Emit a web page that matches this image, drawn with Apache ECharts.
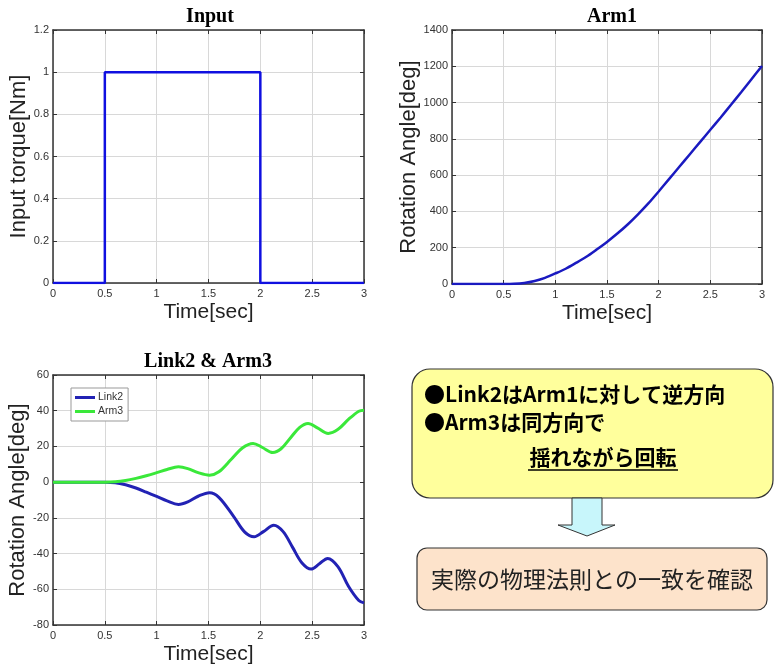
<!DOCTYPE html>
<html>
<head>
<meta charset="utf-8">
<script src="https://cdn.jsdelivr.net/npm/echarts@6/dist/echarts.min.js"></script>
<style>
html,body{margin:0;padding:0;background:#fff;}
#c{width:775px;height:668px;}
</style>
</head>
<body>
<div id="c"></div>
<script>
// ---- data ----
const timeTicks = [0, 0.5, 1, 1.5, 2, 2.5, 3];

const inputT = [0, 0.5, 0.5, 2, 2, 3];
const inputV = [0, 0, 1, 1, 0, 0];

const arm1T = [0, 0.5, 0.6, 0.7, 0.8, 0.9, 1.0, 1.1, 1.2, 1.3, 1.4, 1.5, 1.6, 1.7, 1.8, 1.9, 2.0, 2.1, 2.2, 2.3, 2.4, 2.5, 2.6, 2.7, 2.8, 2.9, 3.0];
const arm1V = [0, 0, 1, 6, 17, 34, 58, 84, 116, 150, 190, 232, 278, 328, 384, 444, 510, 578, 646, 714, 782, 850, 918, 988, 1058, 1130, 1202];

const link2T = [0, 0.5, 0.6, 0.7, 0.8, 0.9, 1.0, 1.1, 1.21, 1.3, 1.4, 1.51, 1.6, 1.74, 1.85, 1.94, 2.03, 2.13, 2.22, 2.31, 2.4, 2.49, 2.57, 2.65, 2.75, 2.85, 2.95, 3.0];
const link2V = [0, 0, -0.3, -1.5, -3.3, -5.6, -8.0, -10.5, -12.5, -11.1, -7.9, -5.9, -8.5, -19.0, -28.0, -30.6, -27.7, -24.1, -27.7, -36.4, -45.1, -48.7, -45.7, -42.7, -47.4, -58.3, -66.3, -67.6];

const arm3T = [0, 0.5, 0.6, 0.7, 0.8, 0.9, 1.0, 1.1, 1.21, 1.3, 1.4, 1.51, 1.6, 1.72, 1.83, 1.93, 2.02, 2.12, 2.2, 2.29, 2.38, 2.46, 2.55, 2.655, 2.75, 2.85, 2.95, 3.0];
const arm3V = [0, 0, 0.2, 0.9, 2.1, 3.6, 5.3, 7.1, 8.6, 7.6, 5.3, 3.9, 5.8, 12.8, 19.3, 21.7, 19.4, 16.6, 18.7, 24.75, 30.7, 32.9, 30.4, 27.3, 29.6, 35.1, 39.7, 40.3];

const titles = ['Input', 'Arm1', 'Link2 & Arm3'];
const xName = 'Time[sec]';
const yNames = ['Input torque[Nm]', 'Rotation Angle[deg]', 'Rotation Angle[deg]'];
const seriesNames = ['Input', 'Arm1', 'Link2', 'Arm3'];
const note1 = '●Link2はArm1に対して逆方向';
const note2 = '●Arm3は同方向で';
const note3 = '揺れながら回転';
const note4 = '実際の物理法則との一致を確認';

// ---- helpers ----
const pair = (t, v) => t.map((x, i) => [x, v[i]]);
const SANS = "'Liberation Sans',Arial,sans-serif";
const frame = {show: true, onZero: false, lineStyle: {color: '#333', width: 1.5}};
const tick = {show: true, inside: true, length: 4, lineStyle: {color: '#333', width: 1}};
const split = {show: true, lineStyle: {color: '#d8d8d8', width: 1}};
const fmt = v => String(+(+v).toFixed(3));
const lbl = {color: '#333', fontSize: 11, fontFamily: SANS, formatter: fmt};

const grids = [
  {left: 53, top: 30, width: 311, height: 253},
  {left: 452, top: 30, width: 310, height: 254},
  {left: 53, top: 375, width: 311, height: 250}
];
const yRanges = [[0, 1.2, 0.2], [0, 1400, 200], [-80, 60, 20]];
const yGaps = [13.5, 19, 24];

const xAxes = [], yAxes = [];
grids.forEach((g, i) => {
  xAxes.push({type: 'value', gridIndex: i, min: 0, max: 3, interval: 0.5, position: 'bottom',
    axisLine: frame, axisTick: tick, splitLine: split,
    axisLabel: Object.assign({margin: 5}, lbl),
    name: xName, nameLocation: 'middle', nameGap: 19,
    nameTextStyle: {fontSize: 21, fontFamily: SANS, color: '#222'}});
  xAxes.push({type: 'value', gridIndex: i, min: 0, max: 3, interval: 0.5, position: 'top',
    axisLine: frame, axisTick: tick, splitLine: {show: false}, axisLabel: {show: false}});
  const r = yRanges[i];
  yAxes.push({type: 'value', gridIndex: i, min: r[0], max: r[1], interval: r[2], position: 'left',
    axisLine: frame, axisTick: tick, splitLine: split,
    axisLabel: Object.assign({margin: 4}, lbl),
    name: yNames[i], nameLocation: 'middle', nameGap: yGaps[i],
    nameTextStyle: {fontSize: 22, fontFamily: SANS, color: '#222'}});
  yAxes.push({type: 'value', gridIndex: i, min: r[0], max: r[1], interval: r[2], position: 'right',
    axisLine: frame, axisTick: tick, splitLine: {show: false}, axisLabel: {show: false}});
});

const mkLine = (name, data, gi, color, w, smooth) => ({
  name, type: 'line', data, xAxisIndex: gi * 2, yAxisIndex: gi * 2,
  showSymbol: false, symbol: 'none', smooth: smooth, animation: false,
  lineStyle: {color, width: w}, itemStyle: {color}
});

const titleFont = "bold 20px 'Liberation Serif','Times New Roman',serif";
const jpFont = "'Noto Sans CJK JP',sans-serif";

const option = {
  backgroundColor: '#fff',
  animation: false,
  grid: grids.map(g => Object.assign({outerBoundsMode: 'none', containLabel: false}, g)),
  xAxis: xAxes,
  yAxis: yAxes,
  legend: {
    data: ['Link2', 'Arm3'], orient: 'vertical', left: 71, top: 388,
    backgroundColor: '#fff', borderColor: '#999', borderWidth: 1,
    padding: [4, 5, 4, 4], itemGap: 3, itemWidth: 20, itemHeight: 3, icon: 'rect',
    textStyle: {fontSize: 10.5, color: '#333', fontFamily: SANS, padding: [0, 0, 0, -2]}
  },
  series: [
    mkLine(seriesNames[0], pair(inputT, inputV), 0, '#1010e0', 2.5, false),
    mkLine(seriesNames[1], pair(arm1T, arm1V), 1, '#1a1ac0', 2.5, 0.3),
    mkLine(seriesNames[2], pair(link2T, link2V), 2, '#2222b4', 3, 0.35),
    mkLine(seriesNames[3], pair(arm3T, arm3V), 2, '#3ae83a', 3, 0.35)
  ],
  graphic: [
    {type: 'text', style: {text: titles[0], x: 210, y: 17, font: titleFont, fill: '#000', align: 'center', verticalAlign: 'middle'}},
    {type: 'text', style: {text: titles[1], x: 612, y: 17, font: titleFont, fill: '#000', align: 'center', verticalAlign: 'middle'}},
    {type: 'text', style: {text: titles[2], x: 208, y: 362, font: titleFont, fill: '#000', align: 'center', verticalAlign: 'middle'}},
    // yellow box
    {type: 'rect', shape: {x: 412, y: 369, width: 361, height: 129, r: 18},
      style: {fill: '#ffff9c', stroke: '#333', lineWidth: 1.2}},
    {type: 'text', style: {text: note1, x: 424, y: 394, font: "bold 21px " + jpFont, fill: '#000', align: 'left', verticalAlign: 'middle'}},
    {type: 'text', style: {text: note2, x: 424, y: 422, font: "bold 21px " + jpFont, fill: '#000', align: 'left', verticalAlign: 'middle'}},
    {type: 'text', style: {text: note3, x: 603, y: 457, font: "bold 21px " + jpFont, fill: '#000', align: 'center', verticalAlign: 'middle'}},
    {type: 'line', shape: {x1: 528, y1: 470, x2: 678, y2: 470}, style: {stroke: '#000', lineWidth: 1.5}},
    // arrow
    {type: 'polygon', shape: {points: [[572, 498], [602, 498], [602, 525], [615, 525], [587, 536], [558, 525], [572, 525]]},
      style: {fill: '#c8f6fb', stroke: '#333', lineWidth: 1}},
    // pink box
    {type: 'rect', shape: {x: 417, y: 548, width: 350, height: 62, r: 10},
      style: {fill: '#fde3cb', stroke: '#333', lineWidth: 1.2}},
    {type: 'text', style: {text: note4, x: 592, y: 579, font: "23px " + jpFont, fill: '#222', align: 'center', verticalAlign: 'middle'}}
  ]
};

const chart = echarts.init(document.getElementById('c'), null, {renderer: 'canvas'});
chart.setOption(option);
</script>
</body>
</html>
